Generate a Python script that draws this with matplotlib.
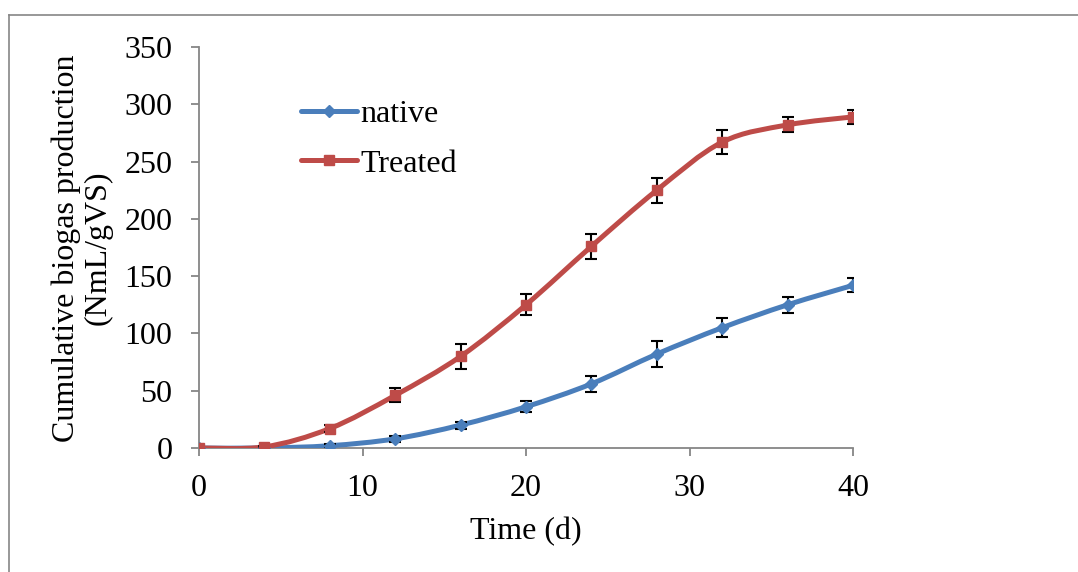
import matplotlib
matplotlib.use("Agg")
import matplotlib.pyplot as plt
from matplotlib.path import Path
from matplotlib.patches import PathPatch
from matplotlib.lines import Line2D
import numpy as np

# data
days = [0, 4, 8, 12, 16, 20, 24, 28, 32, 36, 40]
native = [0, 0, 2, 8, 20, 36, 56, 82, 105, 125, 142]
native_err = [0, 1, 1.5, 2.5, 3, 5, 7, 11, 8.5, 7, 6]
treated = [0, 1, 17, 46, 80, 125, 176, 225, 267, 282, 289]
treated_err = [0, 1, 3, 6, 11, 9, 11, 11, 10.5, 6.5, 6]

blue = "#4A7EBB"
red = "#BE4B48"
gray = "#868686"
fs = 23

plt.rcParams["font.family"] = ["Liberation Serif", "DejaVu Serif"]


# smooth line like excel (bezier through the points)
def smoothPath(xs, ys):
    pts = np.column_stack([xs, ys]).astype(float)
    n = len(pts)
    verts = [pts[0]]
    codes = [Path.MOVETO]
    for i in range(n - 1):
        p0 = pts[i - 1] if i > 0 else pts[i]
        p1 = pts[i]
        p2 = pts[i + 1]
        p3 = pts[i + 2] if i + 2 < n else pts[i + 1]
        c1 = p1 + (p2 - p0) / 6.0
        c2 = p2 - (p3 - p1) / 6.0
        verts += [c1, c2, p2]
        codes += [Path.CURVE4] * 3
    return Path(verts, codes)


def drawSeries(ax, ys, err, color, marker, msize, label):
    patch = PathPatch(smoothPath(days, ys), facecolor="none", edgecolor=color,
                      lw=3.6, capstyle="round", joinstyle="round", zorder=3)
    ax.add_patch(patch)
    ax.errorbar(days, ys, yerr=err, fmt="none", ecolor="black", elinewidth=1.5,
                capsize=4.5, capthick=1.5, zorder=4)
    ax.plot(days, ys, linestyle="none", marker=marker, markersize=msize,
            color=color, zorder=5)
    # handle for legend
    return Line2D([], [], color=color, lw=3.6, marker=marker, markersize=msize,
                  solid_capstyle="round", label=label)


fig = plt.figure(figsize=(10.78, 5.72), dpi=100)
ax = fig.add_axes([199 / 1078, 1 - 448 / 572, (853 - 199) / 1078, (448 - 47) / 572])

h1 = drawSeries(ax, native, native_err, blue, "D", 6.5, "native")
h2 = drawSeries(ax, treated, treated_err, red, "s", 7, "Treated")

ax.set_xlim(0, 40)
ax.set_ylim(0, 350)
ax.set_xticks([0, 10, 20, 30, 40])
ax.set_yticks(range(0, 351, 50))
ax.spines["top"].set_visible(False)
ax.spines["right"].set_visible(False)
for s in ["left", "bottom"]:
    ax.spines[s].set_color(gray)
    ax.spines[s].set_linewidth(1.3)
ax.tick_params(axis="both", direction="out", length=6, width=1.3, color=gray,
               labelsize=fs)
ax.tick_params(axis="y", pad=13)
ax.tick_params(axis="x", pad=13)
for lab in ax.get_xticklabels() + ax.get_yticklabels():
    lab.set_clip_on(False)

fig.text(526 / 1078, 1 - 532 / 572, "Time (d)", ha="center", va="center", fontsize=fs)
fig.text(82 / 1078, 1 - 248 / 572, "Cumulative biogas production\n(NmL/gVS)",
         ha="center", va="center", rotation=90, fontsize=fs, linespacing=1.15,
         multialignment="center")

ax.legend(handles=[h1, h2], loc="upper left", bbox_to_anchor=(301 / 1078, 1 - 100 / 572),
          bbox_transform=fig.transFigure, frameon=False, fontsize=fs,
          handlelength=1.75, handletextpad=0.1, labelspacing=0.62,
          borderpad=0, borderaxespad=0)

# outer chart border (only top and left show)
fig.add_artist(Line2D([9 / 1078, 1], [1 - 15 / 572, 1 - 15 / 572], color=gray, lw=1.2))
fig.add_artist(Line2D([9 / 1078, 9 / 1078], [0, 1 - 15 / 572], color=gray, lw=1.2))

fig.savefig("out.png", dpi=100, facecolor="white")
